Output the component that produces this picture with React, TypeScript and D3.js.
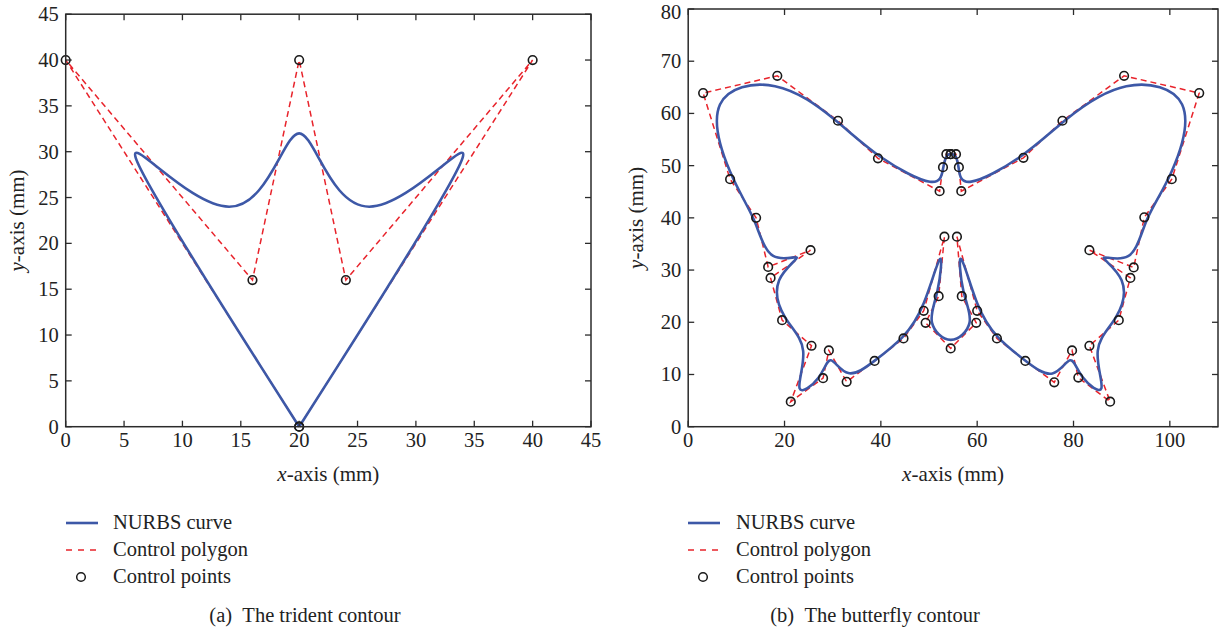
import React from "react";
import * as d3 from "d3";

// ---------- data ----------
// Trident contour control points (open clamped curve, starts/ends at the tip)
const tridentX = [20, 0, 16, 20, 24, 40, 20];
const tridentY = [0, 40, 16, 40, 16, 40, 0];

// Butterfly contour control points
const butterflyX = [
  54.5, 53.6, 52.9, 52.2, 39.4, 31.1, 18.5, 3.1, 8.7, 14.1, 16.6, 25.4, 17.1, 19.5,
  25.6, 21.3, 28.0, 29.2, 32.9, 38.7, 44.7, 48.9, 53.2, 52.0, 49.3, 54.5, 59.8, 56.8,
  55.8, 60.0, 64.1, 70.0, 76.0, 79.7, 81.0, 87.6, 83.3, 89.4, 91.8, 83.3, 92.5, 94.7,
  100.4, 106.1, 90.5, 77.7, 69.6, 56.7, 56.2, 55.6, 54.5,
];
const butterflyY = [
  52.2, 52.2, 49.7, 45.1, 51.4, 58.6, 67.2, 63.9, 47.4, 40.0, 30.6, 33.8, 28.5, 20.4,
  15.5, 4.8, 9.3, 14.6, 8.6, 12.6, 16.9, 22.2, 36.4, 25.0, 19.9, 15.0, 19.9, 25.0,
  36.4, 22.2, 16.9, 12.6, 8.5, 14.6, 9.4, 4.8, 15.5, 20.4, 28.5, 33.8, 30.5, 40.1,
  47.4, 63.9, 67.2, 58.6, 51.5, 45.1, 49.7, 52.2, 52.2,
];

const tridentXTicks = [0, 5, 10, 15, 20, 25, 30, 35, 40, 45];
const tridentYTicks = [0, 5, 10, 15, 20, 25, 30, 35, 40, 45];
const butterflyXTicks = [0, 20, 40, 60, 80, 100];
const butterflyYTicks = [0, 10, 20, 30, 40, 50, 60, 70, 80];

const legendLabels = ["NURBS curve", "Control polygon", "Control points"];
const captions = ["(a)\u2002The trident contour", "(b)\u2002The butterfly contour"];

// ---------- style ----------
const FONT = "'Liberation Serif', 'Times New Roman', serif";
const BLUE = "#3d58a7";
const RED = "#e8232b";
const AXIS = "#2b2b2b";
const TICK_FS = 20.5;

type P = [number, number];

function Panel(props: {
  xs: number[];
  ys: number[];
  xDomain: [number, number];
  yDomain: [number, number];
  xRange: [number, number];
  yRange: [number, number];
  xTicks: number[];
  yTicks: number[];
  yTitleX: number;
  legendX: number;
  legendTextX: number;
  caption: string;
  captionX: number;
}) {
  const x = d3.scaleLinear().domain(props.xDomain).range(props.xRange);
  const y = d3.scaleLinear().domain(props.yDomain).range(props.yRange);
  const pts: P[] = props.xs.map((v, i) => [v, props.ys[i]]);
  const curve = d3
    .line<P>()
    .x((d) => x(d[0]))
    .y((d) => y(d[1]))
    .curve(d3.curveBasis)(pts);
  const poly = d3
    .line<P>()
    .x((d) => x(d[0]))
    .y((d) => y(d[1]))(pts);
  const [x0, x1] = props.xRange;
  const [yb, yt] = props.yRange;
  const tl = 6;
  const midX = (x0 + x1) / 2;
  const midY = (yb + yt) / 2;
  const ly = [523, 550, 577];
  return (
    <g>
      <rect x={x0} y={yt} width={x1 - x0} height={yb - yt} fill="white" />
      <path d={poly || ""} fill="none" stroke={RED} strokeWidth={1.5} strokeDasharray="6,4" />
      <path d={curve || ""} fill="none" stroke={BLUE} strokeWidth={2.6} />
      {pts.map((p, i) => (
        <circle key={i} cx={x(p[0])} cy={y(p[1])} r={4.3} fill="none" stroke="#1a1a1a" strokeWidth={1.6} />
      ))}
      {/* frame */}
      <rect x={x0} y={yt} width={x1 - x0} height={yb - yt} fill="none" stroke={AXIS} strokeWidth={1.5} />
      {props.xTicks.map((t) => (
        <g key={"x" + t}>
          <line x1={x(t)} x2={x(t)} y1={yb} y2={yb - tl} stroke={AXIS} strokeWidth={1.3} />
          <line x1={x(t)} x2={x(t)} y1={yt} y2={yt + tl} stroke={AXIS} strokeWidth={1.3} />
          <text x={x(t)} y={yb + 20} textAnchor="middle" fontFamily={FONT} fontSize={TICK_FS} fill="#222">
            {t}
          </text>
        </g>
      ))}
      {props.yTicks.map((t) => (
        <g key={"y" + t}>
          <line x1={x0} x2={x0 + tl} y1={y(t)} y2={y(t)} stroke={AXIS} strokeWidth={1.3} />
          <line x1={x1} x2={x1 - tl} y1={y(t)} y2={y(t)} stroke={AXIS} strokeWidth={1.3} />
          <text
            x={x0 - 7}
            y={Math.max(y(t) + 7, TICK_FS * 0.92)}
            textAnchor="end"
            fontFamily={FONT}
            fontSize={TICK_FS}
            fill="#222"
          >
            {t}
          </text>
        </g>
      ))}
      <text x={midX} y={481} textAnchor="middle" fontFamily={FONT} fontSize={21} fill="#222">
        <tspan fontStyle="italic">x</tspan>-axis (mm)
      </text>
      <text
        transform={`translate(${props.yTitleX},${midY}) rotate(-90)`}
        textAnchor="middle"
        fontFamily={FONT}
        fontSize={21}
        fill="#222"
      >
        <tspan fontStyle="italic">y</tspan>-axis (mm)
      </text>
      {/* legend */}
      <line x1={props.legendX} x2={props.legendX + 32} y1={ly[0]} y2={ly[0]} stroke={BLUE} strokeWidth={2.6} />
      <line
        x1={props.legendX}
        x2={props.legendX + 32}
        y1={ly[1]}
        y2={ly[1]}
        stroke={RED}
        strokeWidth={1.4}
        strokeDasharray="6,6"
      />
      <circle cx={props.legendX + 15} cy={ly[2]} r={4.3} fill="none" stroke="#1a1a1a" strokeWidth={1.5} />
      {legendLabels.map((s, i) => (
        <text key={s} x={props.legendTextX} y={ly[i] + 6} fontFamily={FONT} fontSize={20.5} fill="#222">
          {s}
        </text>
      ))}
      <text x={props.captionX} y={622} textAnchor="middle" fontFamily={FONT} fontSize={20.5} fill="#222">
        {props.caption}
      </text>
    </g>
  );
}

export default function App() {
  return (
    <svg
      width={1222}
      height={635}
      viewBox="0 0 1222 635"
      style={{ position: "absolute", left: 0, top: 0, background: "white" }}
    >
      <rect width={1222} height={635} fill="white" />
      <Panel
        xs={tridentX}
        ys={tridentY}
        xDomain={[0, 45]}
        yDomain={[0, 45]}
        xRange={[65.7, 591]}
        yRange={[426.7, 14.2]}
        xTicks={tridentXTicks}
        yTicks={tridentYTicks}
        yTitleX={24}
        legendX={66}
        legendTextX={113}
        caption={captions[0]}
        captionX={305}
      />
      <Panel
        xs={butterflyX}
        ys={butterflyY}
        xDomain={[0, 110]}
        yDomain={[0, 80]}
        xRange={[688.2, 1218]}
        yRange={[426.7, 9]}
        xTicks={butterflyXTicks}
        yTicks={butterflyYTicks}
        yTitleX={643}
        legendX={688}
        legendTextX={736}
        caption={captions[1]}
        captionX={875}
      />
    </svg>
  );
}
